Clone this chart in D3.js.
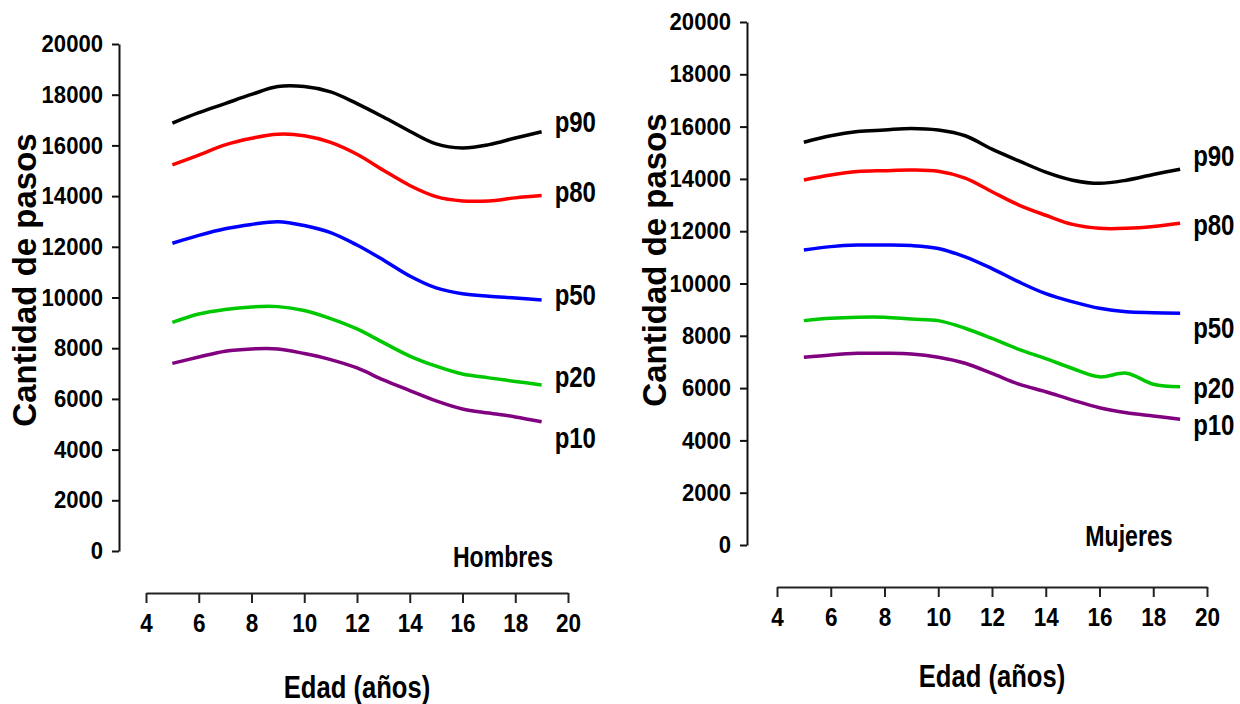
<!DOCTYPE html>
<html>
<head>
<meta charset="utf-8">
<script src="https://cdn.jsdelivr.net/npm/d3@7"></script>
<style>
  body { margin: 0; background: #fff; }
  svg { display: block; }
  text { font-family: "Liberation Sans", Arial, sans-serif; font-weight: bold; fill: #000; }
</style>
</head>
<body>
<svg width="1240" height="704"></svg>
<script>
const d3 = window.d3

// ages (x) for every curve
let ages = [5, 6, 7, 8, 9, 10, 11, 12, 13, 14, 15, 16, 17, 18, 19]
let xTicks = [4, 6, 8, 10, 12, 14, 16, 18, 20]
let yTicks = [0, 2000, 4000, 6000, 8000, 10000, 12000, 14000, 16000, 18000, 20000]

let percentiles = ['p90', 'p80', 'p50', 'p20', 'p10']
let colors = ['#000000', '#ff0000', '#0000ff', '#00c800', '#800080']

// Hombres
let hombresP90 = [16880, 17290, 17650, 18010, 18320, 18320, 18110, 17650, 17120, 16560, 16060, 15900, 16030, 16290, 16540]
let hombresP80 = [15230, 15620, 16020, 16280, 16440, 16380, 16120, 15650, 15020, 14420, 13980, 13810, 13810, 13930, 14020]
let hombresP50 = [12140, 12450, 12710, 12880, 12990, 12840, 12560, 12070, 11480, 10850, 10380, 10150, 10050, 9980, 9900]
let hombresP20 = [9020, 9350, 9530, 9630, 9640, 9490, 9170, 8760, 8220, 7690, 7290, 6980, 6830, 6690, 6550]
let hombresP10 = [7400, 7650, 7880, 7970, 7970, 7790, 7550, 7220, 6750, 6330, 5920, 5600, 5440, 5290, 5100]

// Mujeres
let mujeresP90 = [15400, 15650, 15810, 15870, 15930, 15870, 15650, 15140, 14690, 14260, 13950, 13830, 13950, 14170, 14370]
let mujeresP80 = [13960, 14150, 14280, 14315, 14340, 14290, 14030, 13510, 13000, 12610, 12260, 12110, 12110, 12180, 12300]
let mujeresP50 = [11280, 11410, 11470, 11470, 11450, 11340, 11020, 10570, 10060, 9610, 9300, 9050, 8920, 8885, 8860]
let mujeresP20 = [8580, 8670, 8710, 8710, 8640, 8580, 8290, 7900, 7480, 7130, 6750, 6430, 6570, 6150, 6050]
let mujeresP10 = [7180, 7270, 7330, 7330, 7305, 7180, 6950, 6560, 6150, 5860, 5540, 5250, 5060, 4935, 4810]

let panels = [
  {
    name: 'Hombres',
    series: [hombresP90, hombresP80, hombresP50, hombresP20, hombresP10],
    labelOffsets: [-10, -4, -6, -8, 16],
    xRange: [146, 568], xAxisY: 593,
    yRange: [551, 44], yAxisX: 119,
    nameX: 503, nameY: 567,
    xTitleY: 698, yTitleX: 36, yTitleMid: 280
  },
  {
    name: 'Mujeres',
    series: [mujeresP90, mujeresP80, mujeresP50, mujeresP20, mujeresP10],
    labelOffsets: [-14, 1, 14, 1, 5],
    xRange: [777, 1207], xAxisY: 587,
    yRange: [545, 22], yAxisX: 747,
    nameX: 1129, nameY: 546,
    xTitleY: 687, yTitleX: 666, yTitleMid: 260
  }
]

// condensed look: squeeze glyphs horizontally like a narrow face
function squeeze(sel, factor) {
  sel.each(function () {
    let w = this.getComputedTextLength()
    this.setAttribute('textLength', w * factor)
    this.setAttribute('lengthAdjust', 'spacingAndGlyphs')
  })
}

let svg = d3.select('svg')

panels.forEach(p => {
  let xScale = d3.scaleLinear().domain([4, 20]).range(p.xRange)
  let yScale = d3.scaleLinear().domain([0, 20000]).range(p.yRange)

  let g = svg.append('g')

  // y axis
  let yAxis = d3.axisLeft(yScale)
                .tickValues(yTicks)
                .tickFormat(d3.format('d'))
                .tickSize(7)
                .tickSizeOuter(0)
                .tickPadding(9)
  g.append('g')
      .attr('transform', `translate(${p.yAxisX}, 0)`)
      .call(yAxis)
      .call(a => a.selectAll('path, line').attr('stroke', '#111').attr('stroke-width', 2))
      .call(a => a.selectAll('text').style('font-size', '24px').call(squeeze, 0.92))

  // x axis
  let xAxis = d3.axisBottom(xScale)
                .tickValues(xTicks)
                .tickSize(10)
                .tickSizeOuter(0)
                .tickPadding(11)
  g.append('g')
      .attr('transform', `translate(0, ${p.xAxisY})`)
      .call(xAxis)
      .call(a => a.selectAll('path, line').attr('stroke', '#222').attr('stroke-width', 2))
      .call(a => a.selectAll('text').style('font-size', '25px').call(squeeze, 0.9))

  let line = d3.line()
               .x((d, i) => xScale(ages[i]))
               .y(d => yScale(d))
               .curve(d3.curveCatmullRom.alpha(0.5))

  p.series.forEach((s, i) => {
    g.append('path')
        .attr('d', line(s))
        .attr('fill', 'none')
        .attr('stroke', colors[i])
        .attr('stroke-width', 3.5)

    // percentile label at the end of each curve, narrowed with a scale
    let lx = xScale(19) + 13
    let ly = yScale(s[s.length - 1]) + p.labelOffsets[i]
    g.append('text')
        .attr('transform', `translate(${lx}, ${ly}) scale(0.8, 1)`)
        .attr('dy', '0.35em')
        .style('font-size', '30px')
        .text(percentiles[i])
  })

  // panel name
  g.append('text')
      .attr('x', p.nameX)
      .attr('y', p.nameY)
      .style('text-anchor', 'middle')
      .style('font-size', '30px')
      .text(p.name)
      .call(squeeze, 0.77)

  // x-axis label
  g.append('text')
      .attr('x', (p.xRange[0] + p.xRange[1]) / 2)
      .attr('y', p.xTitleY)
      .style('text-anchor', 'middle')
      .style('font-size', '32px')
      .text('Edad (años)')
      .call(squeeze, 0.8)

  // y-axis label
  g.append('text')
      .attr('transform', 'rotate(-90)')
      .attr('x', -p.yTitleMid)
      .attr('y', p.yTitleX)
      .style('text-anchor', 'middle')
      .style('font-size', '33px')
      .text('Cantidad de pasos')
})
</script>
</body>
</html>
